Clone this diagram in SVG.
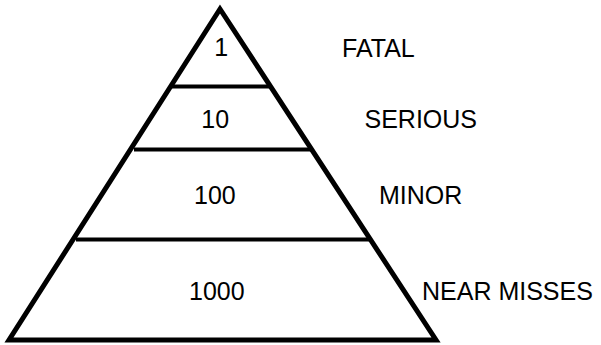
<svg xmlns="http://www.w3.org/2000/svg" width="601" height="345" viewBox="0 0 601 345">
  <style>
    .edge { fill: none; stroke: #000; stroke-width: 5; stroke-linejoin: miter; }
    .tier { stroke: #000; stroke-width: 4; }
    .t { font-family: "Liberation Sans", Arial, sans-serif; font-size: 25px; fill: #000; }
  </style>
  <rect width="601" height="345" fill="#fff"/>
  <g id="pyramid">
    <polygon class="edge" points="220,9 9,340 436,340"/>
  </g>
  <g id="connectors">
    <line class="tier" x1="172" y1="86.5" x2="270" y2="86.5"/>
    <line class="tier" x1="134" y1="149.5" x2="311" y2="149.5"/>
    <line class="tier" x1="76" y1="239.5" x2="369" y2="239.5"/>
  </g>
  <g id="tier-fatal">
    <text class="t" x="214.3" y="56">1</text>
    <text class="t" x="342" y="56.5">FATAL</text>
  </g>
  <g id="tier-serious">
    <text class="t" x="201.3" y="127.5">10</text>
    <text class="t" x="364.5" y="127.5">SERIOUS</text>
  </g>
  <g id="tier-minor">
    <text class="t" x="194" y="204">100</text>
    <text class="t" x="379" y="204">MINOR</text>
  </g>
  <g id="tier-near">
    <text class="t" x="189" y="300">1000</text>
    <text class="t" x="422" y="300">NEAR MISSES</text>
  </g>
</svg>
